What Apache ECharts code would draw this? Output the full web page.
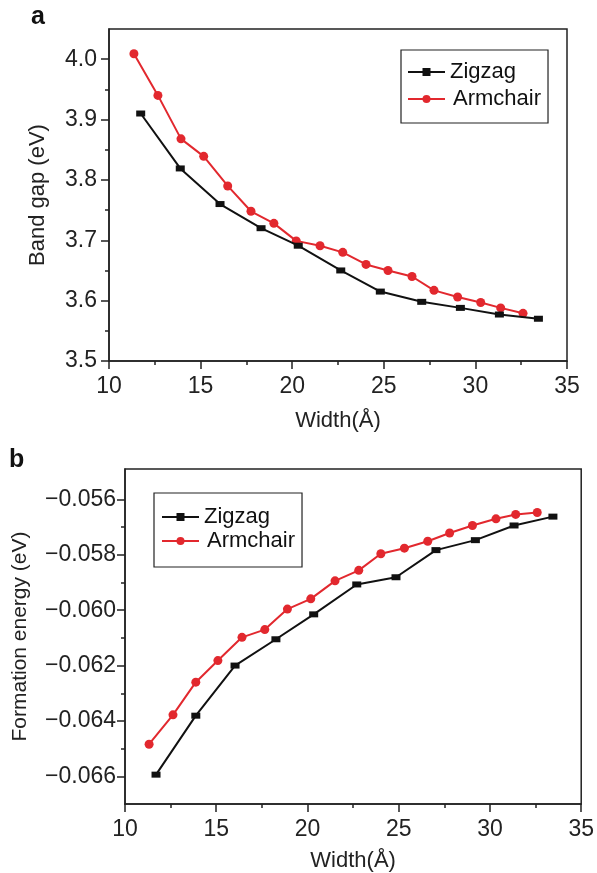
<!DOCTYPE html>
<html>
<head>
<meta charset="utf-8">
<script src="https://cdn.jsdelivr.net/npm/echarts@6/dist/echarts.min.js"></script>
<style>
  html, body { margin: 0; padding: 0; background: #fff; }
  #chart { width: 597px; height: 873px; }
</style>
</head>
<body>
<div id="chart"></div>
<script>
// panel a: band gap vs width
const zigzagWidthA = [11.73, 13.89, 16.06, 18.30, 20.33, 22.65, 24.81, 27.07, 29.18, 31.31, 33.44]
const zigzagGapA = [3.910, 3.819, 3.760, 3.720, 3.691, 3.650, 3.615, 3.598, 3.588, 3.577, 3.570]
const armchairWidthA = [11.36, 12.67, 13.93, 15.17, 16.48, 17.75, 19.00, 20.22, 21.52, 22.76, 24.03, 25.23, 26.54, 27.74, 29.03, 30.29, 31.38, 32.60]
const armchairGapA = [4.009, 3.940, 3.868, 3.839, 3.790, 3.748, 3.728, 3.699, 3.691, 3.680, 3.660, 3.650, 3.640, 3.617, 3.606, 3.597, 3.588, 3.579]

// panel b: formation energy vs width
const zigzagWidthB = [11.70, 13.88, 16.03, 18.27, 20.34, 22.70, 24.85, 27.04, 29.20, 31.32, 33.45]
const zigzagEnergyB = [-0.06594, -0.06381, -0.06200, -0.06105, -0.06015, -0.05907, -0.05881, -0.05783, -0.05747, -0.05694, -0.05662]
const armchairWidthB = [11.32, 12.63, 13.88, 15.09, 16.41, 17.66, 18.90, 20.18, 21.51, 22.81, 24.02, 25.31, 26.59, 27.79, 29.04, 30.33, 31.41, 32.59]
const armchairEnergyB = [-0.06484, -0.06378, -0.06260, -0.06182, -0.06098, -0.06070, -0.05996, -0.05959, -0.05894, -0.05856, -0.05796, -0.05776, -0.05751, -0.05721, -0.05694, -0.05670, -0.05654, -0.05647]

// tick values
const gapTicks = [3.5, 3.6, 3.7, 3.8, 3.9, 4.0]
const gapMinorTicks = [3.55, 3.65, 3.75, 3.85, 3.95]
const energyTicks = [-0.066, -0.064, -0.062, -0.060, -0.058, -0.056]
const energyMinorTicks = [-0.065, -0.063, -0.061, -0.059, -0.057]

const FONT = 'Liberation Sans, Arial, Helvetica, sans-serif'
const INK = '#222'
const RED = '#e2282e'
const TICK_FONT = 23

function pairs(xs, ys) {
  return xs.map((x, i) => [x, ys[i]])
}

function xAxisFor(grid, labelMargin, nameGap) {
  return {
    gridIndex: grid,
    type: 'value',
    min: 10,
    max: 35,
    interval: 5,
    name: 'Width(Å)',
    nameLocation: 'middle',
    nameGap: nameGap,
    nameTextStyle: { fontFamily: FONT, fontSize: 22, color: INK, lineHeight: 22 },
    axisLine: { lineStyle: { color: INK, width: 1.5 } },
    axisTick: { inside: false, length: 8, lineStyle: { color: INK, width: 1.5 } },
    minorTick: { show: true, splitNumber: 2, length: 4, lineStyle: { color: INK, width: 1.5 } },
    axisLabel: { margin: labelMargin, fontFamily: FONT, fontSize: TICK_FONT, color: INK, lineHeight: TICK_FONT },
    splitLine: { show: false }
  }
}

function minorYAxis(grid, min, max, values) {
  return {
    gridIndex: grid,
    type: 'value',
    position: 'left',
    min: min,
    max: max,
    axisLine: { show: false },
    axisLabel: { show: false },
    axisTick: { show: true, length: 4, customValues: values, lineStyle: { color: INK, width: 1.5 } },
    splitLine: { show: false }
  }
}

function legendFor(left, top, padding, gap) {
  return {
    orient: 'vertical',
    left: left,
    top: top,
    padding: padding,
    itemGap: gap,
    itemWidth: 37,
    itemHeight: 10,
    borderColor: INK,
    borderWidth: 1.2,
    borderRadius: 0,
    textStyle: { fontFamily: FONT, fontSize: 22, color: '#111', lineHeight: 22 },
    data: [
      { name: 'Zigzag' },
      { name: 'Armchair', textStyle: { padding: [0, 0, 0, 3] } }
    ]
  }
}

function lineSeries(name, x, y, yIndex, color, symbol, size, z) {
  return {
    name: name,
    type: 'line',
    xAxisIndex: yIndex === 0 ? 0 : 1,
    yAxisIndex: yIndex,
    data: pairs(x, y),
    symbol: symbol,
    symbolSize: size,
    showSymbol: true,
    z: z,
    lineStyle: { color: color, width: 2 },
    itemStyle: { color: color, borderWidth: 0 }
  }
}

const chart = echarts.init(document.getElementById('chart'), null, { renderer: 'canvas' })

chart.setOption({
  animation: false,
  backgroundColor: '#fff',
  title: [
    { text: 'a', left: 31, top: 5, padding: 0, textStyle: { fontFamily: FONT, fontSize: 25, fontWeight: 'bold', color: '#111' } },
    { text: 'b', left: 9, top: 448, padding: 0, textStyle: { fontFamily: FONT, fontSize: 25, fontWeight: 'bold', color: '#111' } }
  ],
  legend: [
    legendFor(401, 50, [11, 7, 13, 6], 5),
    legendFor(154, 493, [13, 7, 15, 7], 2)
  ],
  grid: [
    { left: 109, top: 29, width: 458, height: 332, show: true, borderColor: INK, borderWidth: 1.5, backgroundColor: 'transparent' },
    { left: 125, top: 469, width: 460, height: 335, show: true, borderColor: INK, borderWidth: 1.5, backgroundColor: 'transparent' }
  ],
  xAxis: [
    xAxisFor(0, 14, 49),
    xAxisFor(1, 14, 46)
  ],
  yAxis: [
    {
      gridIndex: 0,
      type: 'value',
      position: 'left',
      min: 3.5,
      max: 4.05,
      name: 'Band gap (eV)',
      nameLocation: 'middle',
      nameGap: 60,
      nameTextStyle: { fontFamily: FONT, fontSize: 22, color: INK, lineHeight: 22 },
      axisLine: { show: true, lineStyle: { color: INK, width: 1.5 } },
      axisTick: { show: true, length: 8, customValues: gapTicks, lineStyle: { color: INK, width: 1.5 } },
      axisLabel: { margin: 12, fontFamily: FONT, fontSize: TICK_FONT, color: INK, customValues: gapTicks, formatter: v => v.toFixed(1) },
      splitLine: { show: false }
    },
    minorYAxis(0, 3.5, 4.05, gapMinorTicks),
    {
      gridIndex: 1,
      type: 'value',
      position: 'left',
      min: -0.067,
      max: -0.0549,
      name: 'Formation energy (eV)',
      nameLocation: 'middle',
      nameGap: 94,
      nameTextStyle: { fontFamily: FONT, fontSize: 21, color: INK, lineHeight: 22 },
      axisLine: { show: true, lineStyle: { color: INK, width: 1.5 } },
      axisTick: { show: true, length: 8, customValues: energyTicks, lineStyle: { color: INK, width: 1.5 } },
      axisLabel: {
        margin: 9, fontFamily: FONT, fontSize: TICK_FONT, color: INK, customValues: energyTicks,
        formatter: v => (v < 0 ? '\u2212' : '') + Math.abs(v).toFixed(3)
      },
      splitLine: { show: false }
    },
    minorYAxis(1, -0.067, -0.0549, energyMinorTicks)
  ],
  series: [
    lineSeries('Zigzag', zigzagWidthA, zigzagGapA, 0, '#111', 'rect', [9, 6], 3),
    lineSeries('Armchair', armchairWidthA, armchairGapA, 0, RED, 'circle', 9, 2),
    lineSeries('Zigzag', zigzagWidthB, zigzagEnergyB, 2, '#111', 'rect', [9, 6], 3),
    lineSeries('Armchair', armchairWidthB, armchairEnergyB, 2, RED, 'circle', 9, 2)
  ]
})
</script>
</body>
</html>
